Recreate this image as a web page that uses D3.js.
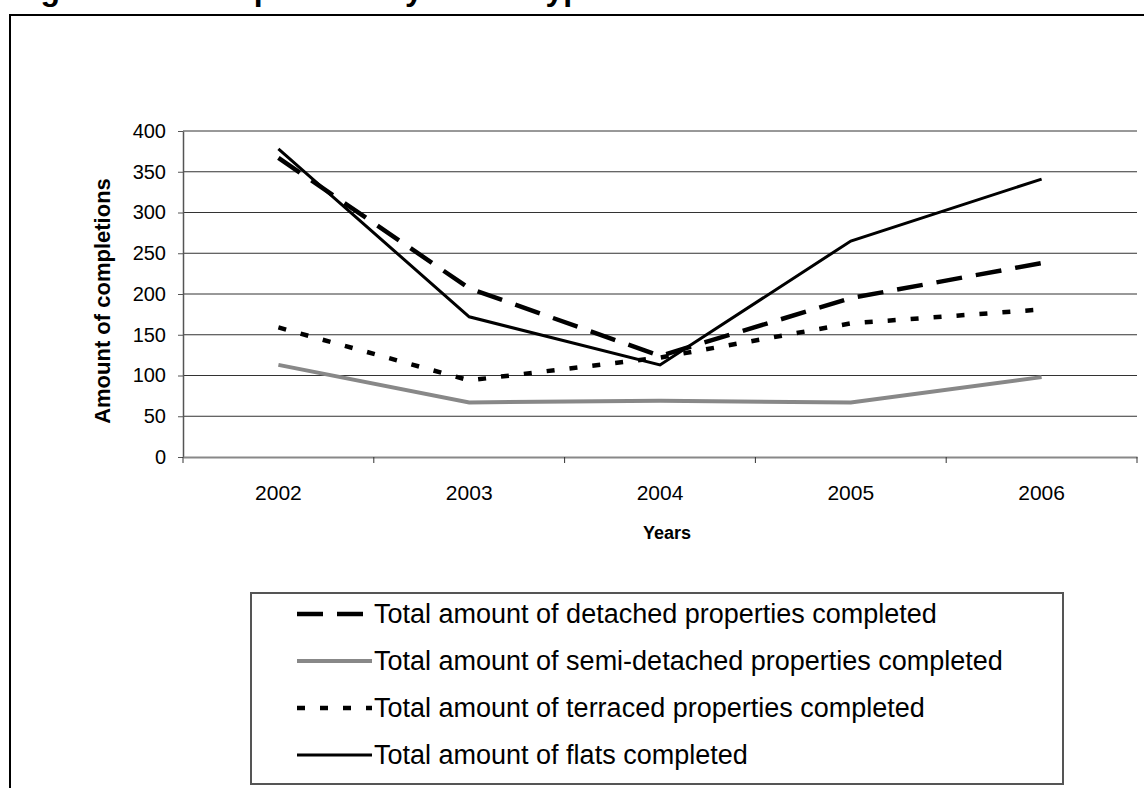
<!DOCTYPE html>
<html>
<head>
<meta charset="utf-8">
<script src="https://cdn.jsdelivr.net/npm/d3@7"></script>
<style>
  html, body { margin: 0; padding: 0; background: #fff; }
  svg { display: block; }
  text { font-family: "Liberation Sans", Arial, sans-serif; fill: #000; }
</style>
</head>
<body>
<svg id="chart" width="1144" height="788"></svg>
<script>
// Completions by type, 2002-2006
const years = ["2002", "2003", "2004", "2005", "2006"];
const detached = [367, 207, 124, 195, 238];
const semiDetached = [113, 67, 69, 67, 98];
const terraced = [159, 94, 122, 164, 181];
const flats = [378, 172, 113, 265, 341];
const yTicks = [0, 50, 100, 150, 200, 250, 300, 350, 400];

const seriesNames = [
  "Total amount of detached properties completed",
  "Total amount of semi-detached properties completed",
  "Total amount of terraced properties completed",
  "Total amount of flats completed"
];
const seriesValues = [detached, semiDetached, terraced, flats];
const seriesStyle = [
  { stroke: "#000", width: 4.5, dash: "26,14" },
  { stroke: "#888", width: 4, dash: null },
  { stroke: "#000", width: 4.5, dash: "8,15" },
  { stroke: "#000", width: 3, dash: null }
];

const svg = d3.select("#chart");

// Chart frame (extends past the page edge on the right and bottom)
svg.append("rect")
  .attr("x", 10).attr("y", 15).attr("width", 1200).attr("height", 800)
  .attr("fill", "none").attr("stroke", "#000").attr("stroke-width", 2);

// Title, sitting above the top of the page
svg.append("text")
  .attr("x", 12).attr("y", 0)
  .attr("font-size", 32).attr("font-weight", "bold")
  .text("Figure 3.1: Completions by house type");

const plot = { left: 183, right: 1137, top: 131, bottom: 457 };

const x = d3.scaleBand().domain(years).range([plot.left, plot.right]);
const y = d3.scaleLinear().domain([0, 400]).range([plot.bottom, plot.top]);

// Horizontal gridlines
svg.append("g")
  .selectAll("line")
  .data(yTicks.filter(d => d > 0))
  .join("line")
  .attr("x1", plot.left).attr("x2", plot.right)
  .attr("y1", d => y(d)).attr("y2", d => y(d))
  .attr("stroke", "#333").attr("stroke-width", 1);

// Y axis
const yAxis = svg.append("g")
  .attr("transform", `translate(${plot.left},0)`)
  .call(d3.axisLeft(y).tickValues(yTicks).tickSize(5).tickPadding(12).tickSizeOuter(0));
yAxis.select(".domain").attr("stroke", "#555").attr("stroke-width", 1.5);
yAxis.selectAll(".tick line").attr("stroke", "#555");
yAxis.selectAll(".tick text")
  .attr("font-size", 20).attr("font-family", "Liberation Sans, Arial, sans-serif").attr("fill", "#000");

// X axis with ticks at category boundaries
const xAxis = svg.append("g")
  .attr("transform", `translate(0,${plot.bottom})`)
  .call(d3.axisBottom(x).tickSize(0).tickPadding(28));
xAxis.select(".domain").attr("stroke", "#888").attr("stroke-width", 2);
xAxis.selectAll(".tick text")
  .attr("font-size", 21).attr("font-family", "Liberation Sans, Arial, sans-serif").attr("fill", "#000");
const boundaries = years.map(d => x(d)).concat([x(years[years.length - 1]) + x.bandwidth()]);
svg.append("g")
  .selectAll("line")
  .data(boundaries)
  .join("line")
  .attr("x1", d => d).attr("x2", d => d)
  .attr("y1", plot.bottom).attr("y2", plot.bottom + 6)
  .attr("stroke", "#333").attr("stroke-width", 1);

// Axis titles
svg.append("text")
  .attr("x", 667).attr("y", 539)
  .attr("text-anchor", "middle").attr("font-size", 18).attr("font-weight", "bold")
  .text("Years");
svg.append("text")
  .attr("transform", `translate(110,301) rotate(-90)`)
  .attr("text-anchor", "middle").attr("font-size", 22).attr("font-weight", "bold")
  .text("Amount of completions");

// Series lines
const line = d3.line()
  .x((d, i) => x(years[i]) + x.bandwidth() / 2)
  .y(d => y(d));

svg.append("g")
  .selectAll("path")
  .data(seriesValues)
  .join("path")
  .attr("d", d => line(d))
  .attr("fill", "none")
  .attr("stroke", (d, i) => seriesStyle[i].stroke)
  .attr("stroke-width", (d, i) => seriesStyle[i].width)
  .attr("stroke-dasharray", (d, i) => seriesStyle[i].dash)
  .attr("stroke-linejoin", "miter");

// Legend
const legend = svg.append("g");
legend.append("rect")
  .attr("x", 251).attr("y", 593).attr("width", 812).attr("height", 191)
  .attr("fill", "#fff").attr("stroke", "#555").attr("stroke-width", 2);

const rows = legend.selectAll("g.row")
  .data(seriesNames)
  .join("g")
  .attr("class", "row")
  .attr("transform", (d, i) => `translate(0,${614 + i * 47})`);
rows.append("line")
  .attr("x1", 297).attr("x2", 372).attr("y1", 0).attr("y2", 0)
  .attr("stroke", (d, i) => seriesStyle[i].stroke)
  .attr("stroke-width", (d, i) => seriesStyle[i].width)
  .attr("stroke-dasharray", (d, i) => seriesStyle[i].dash);
rows.append("text")
  .attr("x", 374).attr("y", 0).attr("dy", "0.35em")
  .attr("font-size", 27)
  .text(d => d);
</script>
</body>
</html>
